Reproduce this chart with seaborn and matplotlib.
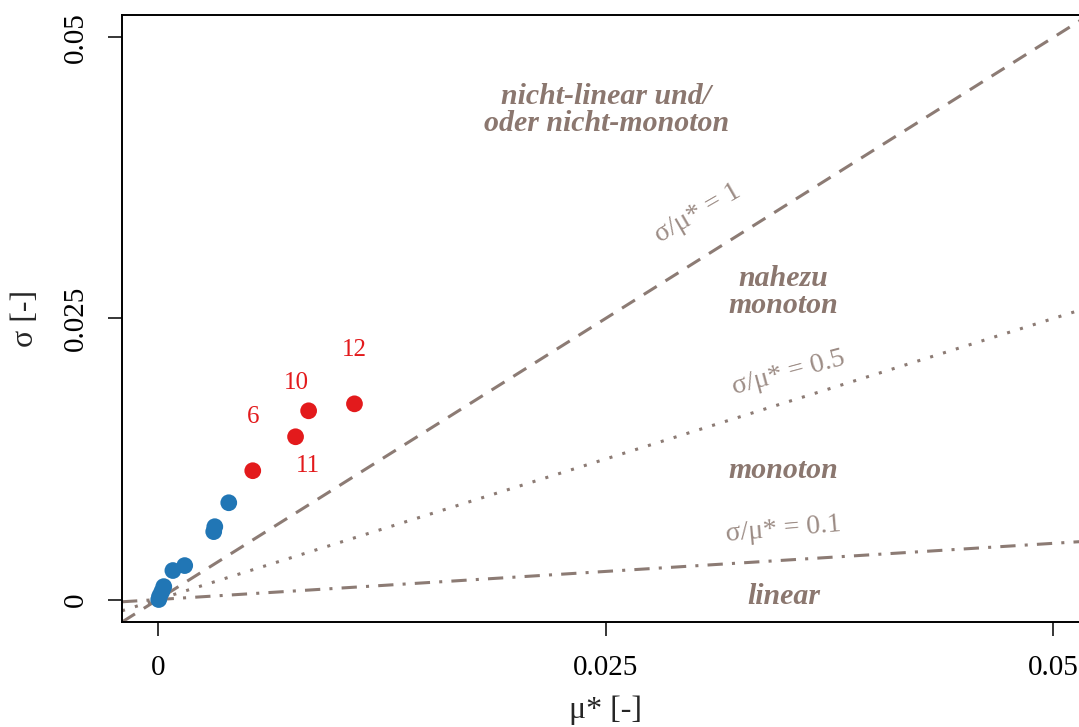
import matplotlib
matplotlib.use("Agg")
import matplotlib.pyplot as plt
import seaborn as sns
import pandas as pd

# ---- data ----
mu_blue = [0.00005, 0.0001, 0.00022, 0.00033, 0.00084, 0.00150, 0.00312, 0.00318, 0.00396]
sigma_blue = [0.0000, 0.0003, 0.0007, 0.00115, 0.00258, 0.00302, 0.00604, 0.00648, 0.00861]
mu_red = [0.00530, 0.00769, 0.00842, 0.01098]
sigma_red = [0.01146, 0.01448, 0.01679, 0.01741]
red_labels = ["6", "11", "10", "12"]
ratios = [1, 0.5, 0.1]
ratio_labels = ["σ/μ* = 1", "σ/μ* = 0.5", "σ/μ* = 0.1"]
regions = ["nicht-linear und/\noder nicht-monoton", "nahezu\nmonoton", "monoton", "linear"]
ticks = [0, 0.025, 0.05]
tick_labels = ["0", "0.025", "0.05"]

sns.set_theme(style="white")
plt.rcParams["font.family"] = ["Liberation Serif", "DejaVu Serif"]

fig = plt.figure(figsize=(10.79, 7.27), dpi=100)
ax = fig.add_axes([0.1131, 0.1444, 0.8962, 0.8350])

line_col = "#8c7b74"
text_col = "#8b776f"
lab_col = "#9c8c85"

styles = [(0, (5, 3.4)), (0, (1, 3.4)), (0, (5, 3, 1, 3))]
for r, ls in zip(ratios, styles):
    ax.axline((0, 0), slope=r, color=line_col, lw=2.2, linestyle=ls, zorder=1)

df = pd.DataFrame({
    "mu": mu_blue + mu_red,
    "sigma": sigma_blue + sigma_red,
    "grp": ["b"] * len(mu_blue) + ["r"] * len(mu_red),
})
sns.scatterplot(data=df, x="mu", y="sigma", hue="grp",
                palette={"b": "#2176b5", "r": "#e31a1c"},
                s=145, linewidth=0, legend=False, ax=ax, zorder=3)

offsets = {"6": (0, 39), "11": (9, -21), "10": (-9, 20), "12": (0, 39)}
for x, y, t in zip(mu_red, sigma_red, red_labels):
    ax.annotate(t, (x, y), xytext=offsets[t], textcoords="offset points",
                ha="center", va="center", color="#e31a1c", fontsize=18)

# region texts
reg_pos = [(0.02503, 0.04352), (0.03495, 0.02735), (0.03495, 0.01146), (0.03495, 0.00027)]
for t, (x, y) in zip(regions, reg_pos):
    ax.text(x, y, t, ha="center", va="center", color=text_col, fontsize=21.5,
            fontweight="bold", fontstyle="italic", linespacing=1.0)

lab_pos = [(0.03016, 0.03437, 30), (0.03523, 0.02016, 15), (0.03495, 0.00622, 5)]
for t, (x, y, rot) in zip(ratio_labels, lab_pos):
    ax.text(x, y, t, ha="center", va="center", color=lab_col, fontsize=20,
            rotation=rot, rotation_mode="anchor")

ax.set_xlim(-0.002, 0.052)
ax.set_ylim(-0.002, 0.052)
ax.set_xticks(ticks)
ax.set_xticklabels(tick_labels)
ax.set_yticks(ticks)
ax.set_yticklabels(tick_labels, rotation=90, va="center")
ax.tick_params(axis="both", direction="out", length=10, width=1.1, colors="black",
               labelsize=21, pad=14, left=True, bottom=True)
for s in ["left", "bottom", "top"]:
    ax.spines[s].set_visible(True)
    ax.spines[s].set_color("black")
    ax.spines[s].set_linewidth(1.4)
ax.spines["right"].set_visible(False)

ax.set_xlabel("μ* [-]", fontsize=23, labelpad=10)
ax.set_ylabel("σ [-]", fontsize=23, labelpad=16)

fig.savefig("out.png", dpi=100)
